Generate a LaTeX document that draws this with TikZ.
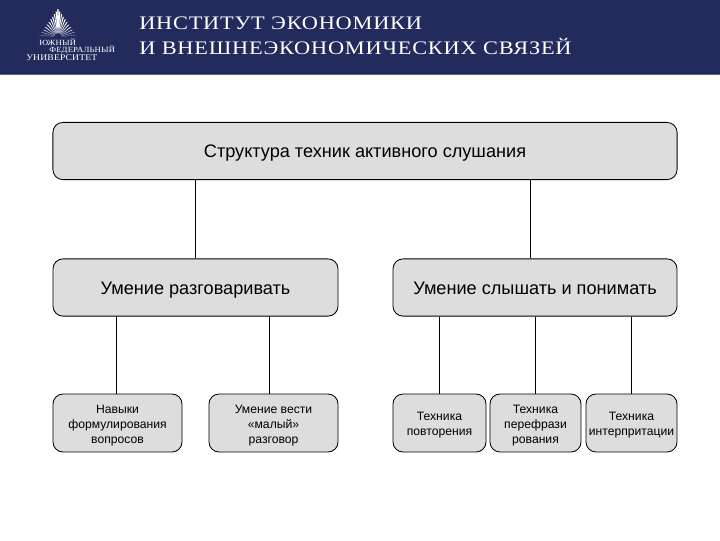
\documentclass[tikz,border=0pt]{standalone}
\usepackage{xcolor}
\usepackage{fontspec}
\setmainfont{Liberation Sans}
\newfontfamily\headfont[LetterSpace=4,FakeStretch=1.17]{Liberation Serif}
\newfontfamily\logofont[LetterSpace=2,FakeStretch=1.1]{Liberation Serif}
\definecolor{headnavy}{HTML}{232B5C}
\definecolor{boxgray}{HTML}{DDDDDD}
\newcommand{\topgap}{\rule{0pt}{9.2pt}}
\tikzset{
  basebox/.style={draw=black, fill=boxgray, rounded corners=0.25cm, align=center, inner sep=0pt, line width=0.6pt},
  bigbox/.style={basebox, minimum height=1.43cm, text height=11.9pt, text depth=2.5pt, font=\fontsize{12.9}{15}\selectfont},
  smallbox/.style={basebox, minimum height=1.45cm, font=\fontsize{8.65}{10.7}\selectfont},
  headtext/.style={text=white, anchor=west, inner sep=0pt, font=\headfont\fontsize{13.6}{16}\selectfont},
  logotext/.style={text=white, anchor=west, inner sep=0pt, font=\logofont\fontsize{5.6}{6}\selectfont},
  link/.style={draw=black, line width=0.6pt}
}
\begin{document}
\begin{tikzpicture}[x=0.025cm, y=-0.025cm]
  \useasboundingbox (0,0) rectangle (720,540);
  % header band
  \fill[headnavy] (0,0) rectangle (720,74);
  \draw[gray!70!headnavy, line width=0.4pt] (0,74) -- (720,74);
  % logo rays
  \foreach \t in {-1,-0.9,...,1.01} {
    \fill[white] (58,37) -- ({58+18*\t-0.6},{9+26*abs(\t)}) -- ({58+18*\t+0.6},{9+26*abs(\t)}) -- cycle;
  }
  \fill[white] (58,9) -- (60,27) -- (56,27) -- cycle;
  \fill[headnavy] (58,37) circle (4);
  \node[logotext] (logoa) at (39,42.5) {ЮЖНЫЙ};
  \node[logotext] (logob) at (49,49.5) {ФЕДЕРАЛЬНЫЙ};
  \node[logotext, font=\logofont\fontsize{6.2}{7}\selectfont] (logoc) at (26,58) {УНИВЕРСИТЕТ};
  \node[headtext] (heada) at (139,23) {ИНСТИТУТ ЭКОНОМИКИ};
  \node[headtext] (headb) at (139,46) {И ВНЕШНЕЭКОНОМИЧЕСКИХ СВЯЗЕЙ};

  % boxes
  \node[bigbox, minimum width=15.6cm] (title) at (365,151) {Структура техник активного слушания};
  \node[bigbox, minimum width=7.125cm] (talk) at (195.5,287.5) {Умение разговаривать};
  \node[bigbox, minimum width=7.1cm] (hear) at (535,287.5) {Умение слышать и понимать};

  \node[smallbox, minimum width=3.225cm] (ask) at (117.5,423) {\topgap Навыки\\формулирования\\вопросов};
  \node[smallbox, minimum width=3.225cm] (small) at (273.5,423) {\topgap Умение вести\\«малый»\\разговор};
  \node[smallbox, minimum width=2.325cm] (repeat) at (439.5,423) {\topgap Техника\\повторения};
  \node[smallbox, minimum width=2.275cm] (para) at (535.5,423) {\topgap Техника\\перефрази\\рования};
  \node[smallbox, minimum width=2.275cm] (interp) at (631.5,423) {\topgap Техника\\интерпритации};

  % connectors
  \coordinate (hearin) at (530,259);
  \coordinate (askout) at (116,316);
  \coordinate (smallout) at (269,316);
  \draw[link] (title.south -| talk.north) -- (talk.north);
  \draw[link] (title.south -| hearin) -- (hear.north -| hearin);
  \draw[link] (askout) -- (ask.north -| askout);
  \draw[link] (smallout) -- (small.north -| smallout);
  \draw[link] (hear.south -| repeat.north) -- (repeat.north);
  \draw[link] (hear.south -| para.north) -- (para.north);
  \draw[link] (hear.south -| interp.north) -- (interp.north);
\end{tikzpicture}
\end{document}
